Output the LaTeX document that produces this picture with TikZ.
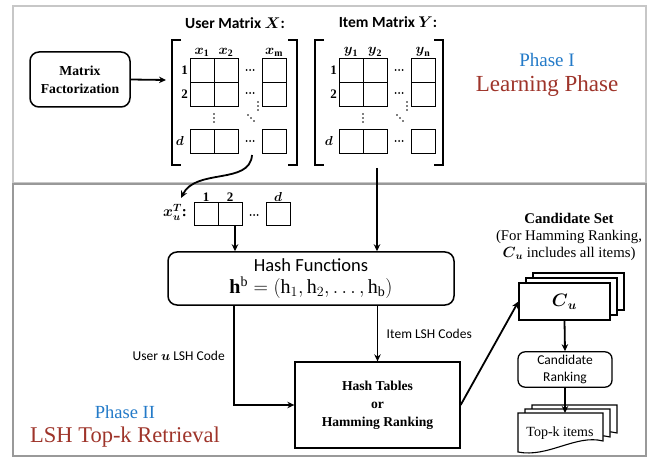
\RequirePackage{fix-cm}
\documentclass[tikz,border=0pt]{standalone}
\usepackage{amsmath,amssymb}
\usepackage{fontspec}
\setmainfont{Liberation Serif}
\setsansfont{Carlito}
\usepackage{xcolor}
\usepackage{tikz}
\usetikzlibrary{positioning,arrows.meta}

\definecolor{phaseblue}{RGB}{35,122,200}
\definecolor{phasered}{RGB}{158,52,42}

\begin{document}
\begin{tikzpicture}[
    x=1pt, y=-1pt,
    >={Stealth[length=7pt,width=6.5pt]},
    framea/.style={draw=black!22, line width=1.5pt},
    frameb/.style={draw=black!40, line width=1.5pt},
    cell/.style={draw, line width=0.9pt, minimum width=24pt, minimum height=24pt, inner sep=0pt, outer sep=0pt},
    rbox/.style={draw, line width=1.5pt, rounded corners=9pt, align=center},
    sbox/.style={draw, line width=1.3pt, align=center},
    sheet/.style={draw, line width=1.1pt, fill=white, minimum width=91pt, minimum height=37pt},
    brk/.style={line width=1.3pt},
    flow/.style={->, line width=1.8pt},
    head/.style={font=\sffamily\bfseries\fontsize{15.5}{18}\selectfont},
    idx/.style={font=\bfseries\fontsize{13}{15}\selectfont, inner sep=1pt},
    col/.style={font=\fontsize{14}{16}\selectfont, inner sep=1pt},
    note/.style={font=\sffamily\fontsize{13.5}{17}\selectfont, align=center}
]
    \useasboundingbox (0,0) rectangle (650,462);

    % the two phases
    \draw[framea] (13,6) rectangle (646,183);
    \draw[frameb] (13,184) rectangle (646,456);

    \node[font=\fontsize{19}{21}\selectfont, text=phaseblue] (p1)     at (547,60) {Phase I};
    \node[font=\fontsize{23}{26}\selectfont, text=phasered]  (p1name) at (547,86) {Learning Phase};
    \node[font=\fontsize{18.5}{21}\selectfont, text=phaseblue] (p2)   at (125,412) {Phase II};
    \node[font=\fontsize{22.5}{26}\selectfont, text=phasered]  (p2name) at (125,437) {LSH Top-k Retrieval};

    % phase I
    \node[rbox, minimum width=100pt, minimum height=55pt, font=\bfseries\fontsize{13.7}{18}\selectfont] (mf) at (80,79.5) {Matrix\\Factorization};
    \coordinate (xleft) at (166,80);
    \draw[flow] (mf.east) -- (xleft);

    % user matrix X
    \node[head] (xhead) at (235,23) {User Matrix $\boldsymbol{X}$:};
    \draw[brk] (181,40) -- (172,40) -- (172,165) -- (181,165);
    \draw[brk] (288,40) -- (297,40) -- (297,165) -- (288,165);
    \node[cell] (x11) at (202,70) {};
    \node[cell] (x12) [right=0pt of x11] {};
    \node[cell] (x21) [below=0pt of x11] {};
    \node[cell] (x22) [right=0pt of x21] {};
    \node[cell] (x1m) at (274,70) {};
    \node[cell] (x2m) [below=0pt of x1m] {};
    \node[cell] (xd1) at (202,141) {};
    \node[cell] (xd2) [right=0pt of xd1] {};
    \node[cell] (xdm) at (274,141) {};
    \node[col] [above=0pt of x11] {$\boldsymbol{x}_{\mathbf{1}}$};
    \node[col] [above=0pt of x12] {$\boldsymbol{x}_{\mathbf{2}}$};
    \node[col] [above=0pt of x1m] {$\boldsymbol{x}_{\mathbf{m}}$};
    \node[idx] [left=1pt of x11] {1};
    \node[idx] [left=1pt of x21] {2};
    \node[idx] [left=5pt of xd1] {$\boldsymbol{d}$};

    % item matrix Y
    \node[head] (yhead) at (388,22) {Item Matrix $\boldsymbol{Y}$:};
    \draw[brk] (324,40) -- (315,40) -- (315,165) -- (324,165);
    \draw[brk] (434,40) -- (443,40) -- (443,165) -- (434,165);
    \node[cell] (y11) at (351,70) {};
    \node[cell] (y12) [right=0pt of y11] {};
    \node[cell] (y21) [below=0pt of y11] {};
    \node[cell] (y22) [right=0pt of y21] {};
    \node[cell] (y1n) at (423,70) {};
    \node[cell] (y2n) [below=0pt of y1n] {};
    \node[cell] (yd1) at (351,141) {};
    \node[cell] (yd2) [right=0pt of yd1] {};
    \node[cell] (ydn) at (423,141) {};
    \node[col] [above=0pt of y11] {$\boldsymbol{y}_{\mathbf{1}}$};
    \node[col] [above=0pt of y12] {$\boldsymbol{y}_{\mathbf{2}}$};
    \node[col] [above=0pt of y1n] {$\boldsymbol{y}_{\mathbf{n}}$};
    \node[idx] [left=1pt of y11] {1};
    \node[idx] [left=1pt of y21] {2};
    \node[idx] [left=5pt of yd1] {$\boldsymbol{d}$};

    % dots of both matrices and of x_u
    \foreach \cx/\cy in {250/70, 250/93, 250/141, 399/70, 399/93, 399/141, 254/215}
        \foreach \d in {-3.5,0,3.5} \fill (\cx+\d,\cy) circle (1pt);
    \foreach \cx/\cy in {214/118, 258/106, 363/118, 407/106}
        \foreach \d in {-4,0,4} \fill (\cx,\cy+\d) circle (0.9pt);
    \foreach \cx/\cy in {251/118, 400/118}
        \foreach \d in {-3,0,3} \fill (\cx+\d,\cy+\d) circle (0.9pt);

    % phase II
    \node[inner sep=0pt, font=\fontsize{15}{17}\selectfont] (xut) at (175,212) {$\boldsymbol{x}_{\boldsymbol{u}}^{\boldsymbol{T}}$\textbf{:}};
    \node[cell, minimum height=23pt] (xu1) at (206,214) {};
    \node[cell, minimum height=23pt] (xu2) [right=0pt of xu1] {};
    \node[cell, minimum height=23pt] (xud) at (278,214) {};
    \node[idx] [above=0pt of xu1] {1};
    \node[idx] [above=0pt of xu2] {2};
    \node[idx] [above=0pt of xud] {$\boldsymbol{d}$};

    \coordinate (ucurve) at (252,155);
    \coordinate (uend)   at (181,198);
    \draw[flow] (ucurve) .. controls (250,185) and (196,168) .. (uend);

    \node[rbox, minimum width=286pt, minimum height=53pt] (hash) at (311,278.5)
        {{\sffamily\fontsize{18.5}{20}\selectfont Hash Functions}\\[4pt]
         {\fontsize{20}{22}\selectfont $\mathbf{h}^{\mathrm{b}}=(\mathrm{h}_1,\mathrm{h}_2,\ldots,\mathrm{h}_{\mathrm{b}})$}};
    \draw[flow] ([xshift=5pt]xu2.south) -- ([xshift=5pt]xu2.south |- hash.north);

    \coordinate (ydown) at (377,168);
    \draw[flow] (ydown) -- (ydown |- hash.north);

    \node[sbox, minimum width=165pt, minimum height=86pt, font=\bfseries\fontsize{13.6}{18}\selectfont] (tables) at (377.5,405)
        {Hash Tables\\or\\Hamming Ranking};

    \draw[flow] ([xshift=-77pt]hash.south) -- node[pos=0.5, left=5pt, note] {User $\boldsymbol{u}$ LSH Code} ([xshift=-77pt]hash.south |- tables.west) -- (tables.west);
    \draw[flow] (hash.south -| tables.north) -- node[midway, right=5pt, note] {Item LSH Codes} (tables.north);

    % candidate set
    \node[align=center, font=\fontsize{14.8}{17}\selectfont] (candset) at (569,237)
        {\textbf{Candidate Set}\\(For Hamming Ranking,\\$\boldsymbol{C}_{\boldsymbol{u}}$ includes all items)};
    \node[sheet] (cu3) at (578.5,291.5) {};
    \node[sheet] (cu2) at (571.5,296.5) {};
    \node[sheet, font=\fontsize{18}{20}\selectfont] (cu) at (564.5,301.5) {$\boldsymbol{C}_{\boldsymbol{u}}$};
    \draw[flow] (tables.east) -- (cu.west);

    \node[rbox, minimum width=94pt, minimum height=35pt, note, line width=1.3pt, rounded corners=7pt] (rank) at (565,369.5) {Candidate\\Ranking};
    \draw[flow] (cu.south) -- (rank.north);

    % top-k items
    \draw[line width=1.1pt, fill=white] (532,405) -- (617,405) -- (617,433) .. controls (590,426) and (562,450) .. (532,444) -- cycle;
    \draw[line width=1.1pt, fill=white] (525,409) -- (610,409) -- (610,437) .. controls (583,430) and (555,454) .. (525,448) -- cycle;
    \draw[line width=1.1pt, fill=white] (518,413) -- (603,413) -- (603,441) .. controls (576,434) and (548,458) .. (518,452) -- cycle;
    \node[font=\fontsize{14}{16}\selectfont] (topk) at (560,433) {Top-k items};
    \coordinate (topktop) at (565,413);
    \draw[flow] (rank.south) -- (topktop);
\end{tikzpicture}
\end{document}
